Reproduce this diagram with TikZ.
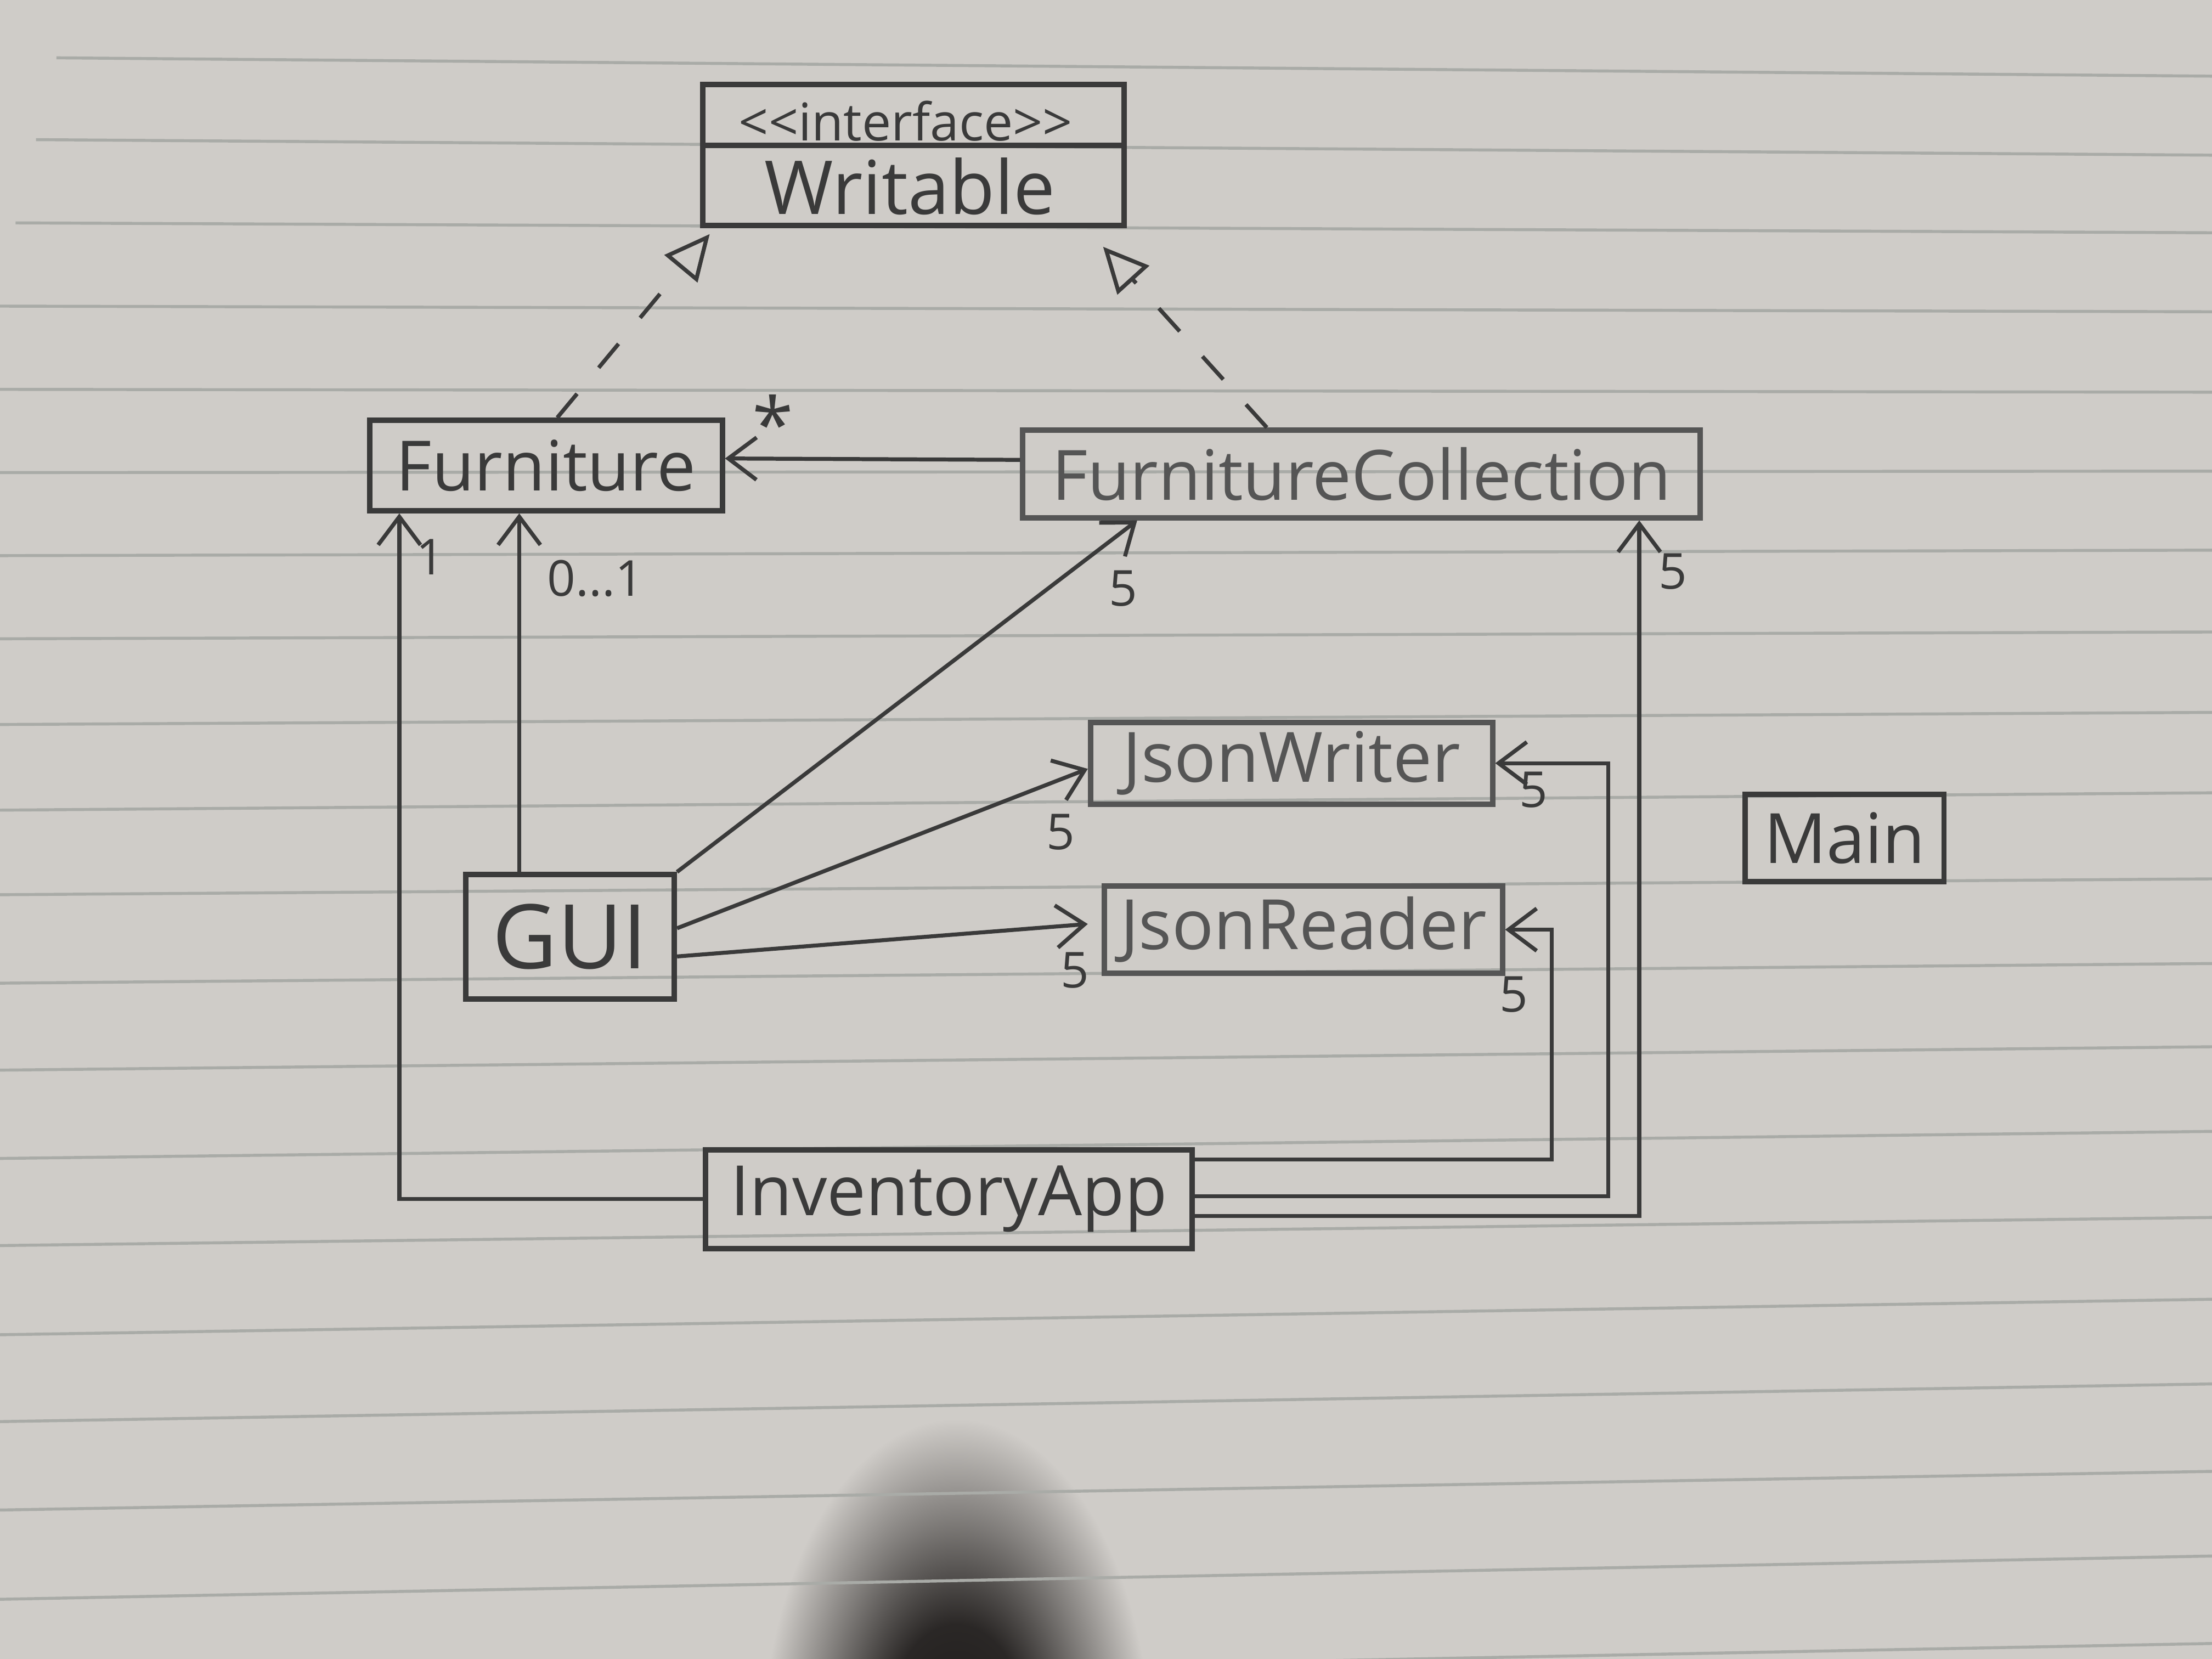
\documentclass[tikz,border=0pt]{standalone}
\usepackage{fontspec}
\setmainfont{Open Sans}
\usetikzlibrary{arrows.meta,calc}
\definecolor{paper}{HTML}{CFCCC8}
\definecolor{rule}{HTML}{A9ABA7}
\definecolor{pencil}{HTML}{3A3A3A}
\definecolor{pencilL}{HTML}{555555}
\definecolor{shadowc}{HTML}{1C1918}
\pgfdeclareradialshading{fingershadow}{\pgfpoint{0bp}{0bp}}{%
  color(0bp)=(shadowc); color(9bp)=(shadowc!92!paper); color(16bp)=(shadowc!45!paper);
  color(23bp)=(paper); color(50bp)=(paper)}
\begin{document}
\begin{tikzpicture}[x=1cm,y=-1cm,
  cls/.style={draw=pencil, line width=1.1pt, inner sep=0pt, text=pencil,
              font=\fontsize{14}{16}\selectfont},
  clsL/.style={cls, draw=pencilL, text=pencilL},
  plain/.style={inner sep=0pt, text=pencil, font=\fontsize{14}{16}\selectfont},
  conn/.style={draw=pencil, line width=0.8pt},
  assoc/.style={conn, -{Straight Barb[length=0.2cm,width=0.3cm]}},
  real/.style={conn, dash pattern=on 0.22cm off 0.24cm,
               -{Triangle[open,length=0.32cm,width=0.3cm]}},
  lbl/.style={inner sep=0pt, text=pencil, font=\fontsize{10}{12}\selectfont}]

% paper
\fill[paper] (0,0) rectangle (15.68,11.76);
\useasboundingbox (0,0) rectangle (15.68,11.76);
\begin{scope}
  \clip (0,0) rectangle (15.68,11.76);
  \shade[shading=fingershadow] (6.78,12.45) ellipse [x radius=1.5, y radius=2.6];
  \foreach \i/\yl/\yr in {0/0.41/0.54,1/0.99/1.10,2/1.58/1.65,3/2.17/2.21,4/2.76/2.78,
      5/3.35/3.34,6/3.94/3.90,7/4.53/4.48,8/5.14/5.05,9/5.75/5.62,10/6.35/6.23,
      11/6.98/6.83,12/7.60/7.42,13/8.23/8.02,14/8.85/8.63,15/9.49/9.21,
      16/10.11/9.81,17/10.74/10.43,18/11.38/11.03,19/12.00/11.65}{
    \draw[rule, line width=0.6pt] ({0.40-0.0145*\i*10},\yl) -- (15.68,\yr);
  }
\end{scope}

% classes
\node[cls, minimum width=2.99cm, minimum height=1.00cm] (wrt) at (6.475,1.10) {};
\draw[draw=pencil, line width=1.1pt] ([yshift=0.07cm]wrt.west) -- ([yshift=0.07cm]wrt.east);
\node[plain, font=\fontsize{10.5}{12}\selectfont] (wrtst) at (6.42,0.86) {<\kern0pt<interface>\kern0pt>};
\node[plain, font=\fontsize{15}{17}\selectfont] (wrtname) at (6.45,1.32) {Writable};

\node[cls, minimum width=2.50cm, minimum height=0.64cm] (fur) at (3.87,3.30) {Furniture};
\node[clsL, minimum width=4.80cm, minimum height=0.62cm] (fc) at (9.65,3.36) {FurnitureCollection};
\node[clsL, minimum width=2.85cm, minimum height=0.58cm] (jw) at (9.155,5.41) {JsonWriter};
\node[clsL, minimum width=2.82cm, minimum height=0.62cm] (jr) at (9.24,6.59) {JsonReader};
\node[cls, minimum width=1.48cm, minimum height=0.88cm, font=\fontsize{18}{20}\selectfont] (gui) at (4.04,6.64) {GUI};
\node[cls, minimum width=3.45cm, minimum height=0.70cm] (ia) at (6.725,8.50) {InventoryApp};
\node[cls, minimum width=1.41cm, minimum height=0.62cm] (main) at (13.075,5.94) {Main};

% realizations
\draw[real] ([xshift=0.08cm]fur.north) -- ([xshift=0.07cm,yshift=-0.04cm]wrt.south west);
\draw[real] ([xshift=-0.67cm]fc.north) -- ([xshift=-0.17cm,yshift=-0.13cm]wrt.south east);

% associations
\draw[assoc] ([yshift=0.10cm]fc.west) -- ([yshift=0.05cm]fur.east);
\node[lbl, font=\fontsize{15}{16}\selectfont] (star) at (5.48,3.00) {*};

\draw[assoc] (ia.west) -| ([xshift=0.23cm]fur.south west);
\node[lbl] (l1) at (3.05,3.95) {1};

\coordinate (g1) at ([xshift=0.40cm]gui.north west);
\draw[assoc] (g1) -- (g1 |- fur.south);
\node[lbl] (l01) at (4.22,4.10) {0...1};

\draw[assoc] (gui.north east) -- ([xshift=0.83cm]fc.south west);
\node[lbl] (l5a) at (7.96,4.17) {5};

\draw[assoc] ([yshift=0.06cm]gui.east) -- ([yshift=-0.04cm]jw.west);
\node[lbl] (l5b) at (7.52,5.90) {5};

\draw[assoc] ([yshift=-0.14cm]gui.east) -- ([xshift=-0.1cm,yshift=0.04cm]jr.west);
\node[lbl] (l5c) at (7.62,6.88) {5};

\draw[assoc] ([yshift=0.28cm]ia.east) -| ([xshift=0.33cm]jr.east) -- (jr.east);
\node[lbl] (l5d) at (10.73,7.05) {5};

\draw[assoc] ([yshift=0.02cm]ia.east) -| ([xshift=0.80cm]jw.east) -- (jw.east);
\node[lbl] (l5e) at (10.87,5.60) {5};

\draw[assoc] ([yshift=-0.12cm]ia.east) -| ([xshift=1.97cm]fc.south);
\node[lbl] (l5f) at (11.86,4.05) {5};
\end{tikzpicture}
\end{document}
